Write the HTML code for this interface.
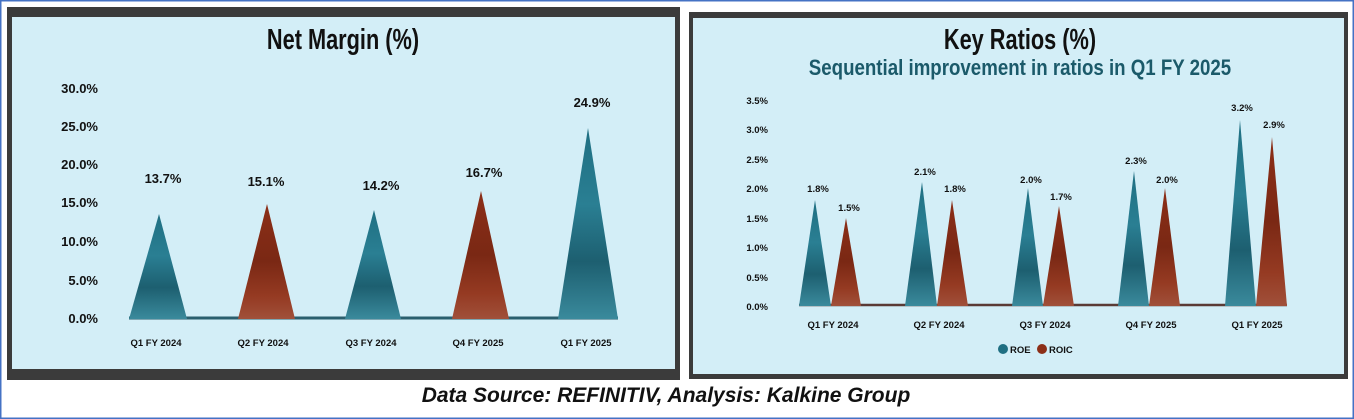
<!DOCTYPE html>
<html><head><meta charset="utf-8"><style>
html,body{margin:0;padding:0;background:#fff;}
svg{display:block}
text{font-family:"Liberation Sans",sans-serif;font-weight:bold;}
</style></head><body>
<svg width="1354" height="419" viewBox="0 0 1354 419" xmlns="http://www.w3.org/2000/svg">
<defs>
<linearGradient id="t" x1="0" y1="0" x2="0" y2="1">
<stop offset="0" stop-color="#1f6f82"/><stop offset="0.4" stop-color="#2a7f93"/><stop offset="0.7" stop-color="#1d5f70"/><stop offset="1" stop-color="#3a8a9c"/></linearGradient>
<linearGradient id="r" x1="0" y1="0" x2="0" y2="1">
<stop offset="0" stop-color="#8c2f18"/><stop offset="0.5" stop-color="#7a2814"/><stop offset="0.8" stop-color="#953a22"/><stop offset="1" stop-color="#a0503a"/></linearGradient>
</defs>
<rect x="0.5" y="0.5" width="1353" height="418" fill="#fff" stroke="#4472c4" stroke-width="2"/>
<!-- left panel -->
<rect x="7" y="7" width="673" height="373" fill="#3b3b3b"/>
<rect x="12" y="17" width="663" height="352" fill="#d3eef7"/>
<text x="343" y="49" font-size="29" text-anchor="middle" transform="translate(343 0) scale(0.75 1) translate(-343 0)" fill="#111">Net Margin (%)</text>
<g font-size="13" fill="#111" text-anchor="end">
<text x="98" y="93">30.0%</text><text x="98" y="131">25.0%</text><text x="98" y="169">20.0%</text><text x="98" y="207">15.0%</text><text x="98" y="246">10.0%</text><text x="98" y="285">5.0%</text><text x="98" y="323">0.0%</text>
</g>
<line x1="129" y1="318" x2="618" y2="318" stroke="#2a5f6e" stroke-width="3"/>
<polygon points="129,319 187,319 159,214" fill="url(#t)"/>
<polygon points="238,319 295,319 267,204" fill="url(#r)"/>
<polygon points="345,319 401,319 374,210" fill="url(#t)"/>
<polygon points="452,319 509,319 481,191" fill="url(#r)"/>
<polygon points="558,319 618,319 588,128" fill="url(#t)"/>
<g font-size="13" fill="#111" text-anchor="middle">
<text x="163" y="183">13.7%</text><text x="266" y="186">15.1%</text><text x="381" y="190">14.2%</text><text x="484" y="177">16.7%</text><text x="592" y="107">24.9%</text>
</g>
<g font-size="9.5" fill="#111" text-anchor="middle">
<text x="156" y="346">Q1 FY 2024</text><text x="263" y="346">Q2 FY 2024</text><text x="371" y="346">Q3 FY 2024</text><text x="478" y="346">Q4 FY 2025</text><text x="586" y="346">Q1 FY 2025</text>
</g>
<!-- right panel -->
<rect x="689" y="12" width="659" height="367" fill="#3b3b3b"/>
<rect x="693" y="18" width="651" height="356" fill="#d3eef7"/>
<text x="1020" y="49" font-size="29" text-anchor="middle" transform="translate(1020 0) scale(0.75 1) translate(-1020 0)" fill="#111">Key Ratios (%)</text>
<text x="1020" y="75" font-size="22" text-anchor="middle" transform="translate(1020 0) scale(0.85 1) translate(-1020 0)" fill="#1b5a6a">Sequential improvement in ratios in Q1 FY 2025</text>
<g font-size="9.5" fill="#111" text-anchor="end">
<text x="768" y="104">3.5%</text><text x="768" y="133">3.0%</text><text x="768" y="163">2.5%</text><text x="768" y="192">2.0%</text><text x="768" y="222">1.5%</text><text x="768" y="251">1.0%</text><text x="768" y="281">0.5%</text><text x="768" y="310">0.0%</text>
</g>
<line x1="799" y1="305" x2="1287" y2="305" stroke="#5a3a35" stroke-width="2.5"/>
<g>
<polygon points="799,306 831,306 815,200" fill="url(#t)"/><polygon points="831,306 861,306 846,218" fill="url(#r)"/>
<polygon points="905,306 937,306 922,182" fill="url(#t)"/><polygon points="937,306 968,306 952,200" fill="url(#r)"/>
<polygon points="1012,306 1043,306 1028,188" fill="url(#t)"/><polygon points="1043,306 1074,306 1059,206" fill="url(#r)"/>
<polygon points="1118,306 1149,306 1134,171" fill="url(#t)"/><polygon points="1149,306 1180,306 1165,188" fill="url(#r)"/>
<polygon points="1225,306 1256,306 1240,120" fill="url(#t)"/><polygon points="1256,306 1287,306 1272,137" fill="url(#r)"/>
</g>
<g font-size="9.5" fill="#111" text-anchor="middle">
<text x="818" y="192">1.8%</text><text x="849" y="211">1.5%</text>
<text x="925" y="175">2.1%</text><text x="955" y="192">1.8%</text>
<text x="1031" y="183">2.0%</text><text x="1061" y="200">1.7%</text>
<text x="1136" y="164">2.3%</text><text x="1167" y="183">2.0%</text>
<text x="1242" y="111">3.2%</text><text x="1274" y="128">2.9%</text>
</g>
<g font-size="9.5" fill="#111" text-anchor="middle">
<text x="833" y="328">Q1 FY 2024</text><text x="939" y="328">Q2 FY 2024</text><text x="1045" y="328">Q3 FY 2024</text><text x="1151" y="328">Q4 FY 2025</text><text x="1257" y="328">Q1 FY 2025</text>
</g>
<circle cx="1003" cy="349" r="5" fill="#1f6f82"/><text x="1010" y="353" font-size="9.5" fill="#111">ROE</text>
<circle cx="1042" cy="349" r="5" fill="#8c2f18"/><text x="1049" y="353" font-size="9.5" fill="#111">ROIC</text>
<text x="666" y="402" font-size="21" font-style="italic" text-anchor="middle" fill="#111">Data Source: REFINITIV, Analysis: Kalkine Group</text>
</svg>
</body></html>
